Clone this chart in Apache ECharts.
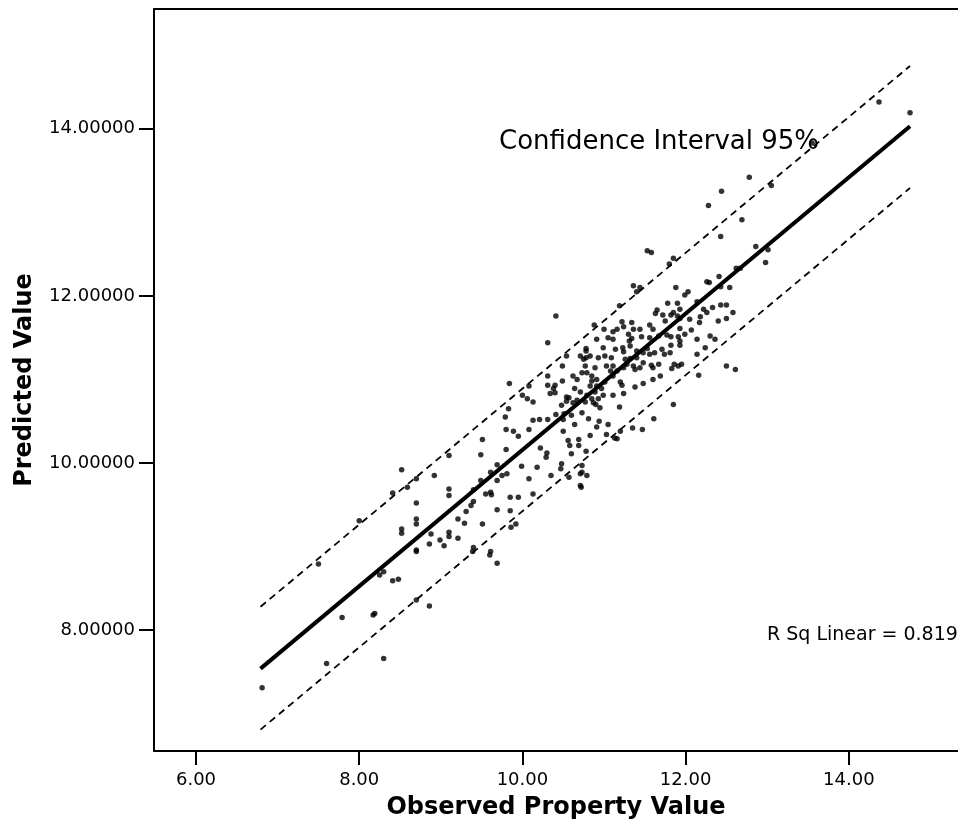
<!DOCTYPE html>
<html>
<head>
<meta charset="utf-8">
<title>Observed vs Predicted Property Value</title>
<script src="https://cdn.jsdelivr.net/npm/echarts@6/dist/echarts.min.js"></script>
<style>
  html, body { margin: 0; padding: 0; background: #fff; overflow: hidden; }
  #chart { width: 958px; height: 825px; }
</style>
</head>
<body>
<div id="chart"></div>
<script>
  // observed / predicted pairs
  var observed = [
    6.81, 7.60, 8.30, 7.79, 8.17, 8.19, 8.70, 8.86, 7.50, 8.25, 8.30, 8.41, 8.48, 8.00, 8.52, 8.92, 8.70, 8.59, 8.41, 9.10,
    9.10, 9.10, 8.70, 8.70, 8.70, 8.52, 8.52, 8.88, 9.10, 9.10, 8.99, 9.04, 8.86, 8.70, 8.70, 9.21, 9.21, 9.40, 9.39, 9.61,
    9.60, 9.69, 9.40, 9.49, 9.61, 9.69, 9.75, 9.81, 9.55, 9.61, 9.62, 9.40, 9.37, 9.31, 9.29, 9.69, 9.85, 9.95, 10.08, 9.85,
    10.13, 9.51, 9.86, 9.92, 10.47, 10.57, 10.71, 10.71, 10.41, 10.31, 10.88, 10.91, 10.78, 10.78, 10.78, 10.54, 10.71, 10.49, 10.77, 10.89,
    10.73, 10.79, 10.62, 10.67, 10.85, 10.91, 10.31, 10.31, 10.40, 10.38, 10.34, 10.40, 10.49, 10.64, 10.54, 10.57, 10.48, 10.67, 10.79, 10.85,
    10.08, 10.00, 10.06, 10.13, 9.84, 9.83, 9.79, 10.41, 10.51, 10.60, 10.13, 10.21, 10.31, 9.80, 9.89, 9.95, 10.08, 10.50, 10.64, 10.73,
    10.81, 10.91, 10.83, 9.51, 9.49, 9.80, 10.22, 10.30, 10.29, 10.56, 10.58, 10.69, 10.69, 10.60, 10.78, 9.69, 9.99, 10.18, 10.48, 10.73,
    10.73, 10.35, 10.79, 10.72, 11.85, 11.61, 11.47, 11.35, 11.20, 11.16, 11.03, 11.05, 10.94, 10.95, 11.19, 10.54, 10.62, 10.87, 10.90, 10.50,
    11.53, 11.58, 11.80, 11.85, 11.36, 11.44, 11.40, 11.88, 12.03, 11.99, 12.26, 12.29, 12.41, 12.62, 12.86, 12.43, 11.19, 11.65, 11.63, 11.78,
    11.90, 11.93, 12.05, 12.14, 12.22, 12.26, 12.33, 12.43, 12.50, 12.58, 12.50, 12.40, 12.18, 12.17, 11.72, 11.82, 11.85, 11.75, 11.93, 11.56,
    11.60, 11.44, 11.22, 11.34, 11.24, 11.36, 11.16, 11.00, 11.11, 11.05, 11.11, 11.34, 11.46, 11.56, 11.67, 11.77, 11.93, 11.99, 12.07, 12.14,
    12.24, 12.14, 12.36, 11.82, 11.81, 11.93, 11.93, 11.91, 11.95, 11.86, 11.83, 11.71, 11.62, 11.48, 11.56, 11.40, 11.24, 11.14, 10.99, 11.01,
    10.93, 11.09, 11.26, 11.32, 11.48, 11.58, 11.67, 11.60, 11.36, 11.44, 11.24, 11.16, 11.03, 12.50, 12.61, 12.16, 11.69, 11.60, 11.48, 11.38,
    11.22, 11.24, 11.20, 11.11, 11.13, 10.85, 10.83, 10.91, 11.01, 10.97, 10.89, 10.71, 10.99, 10.93, 10.77, 11.11, 11.08, 11.74, 11.53, 11.32,
    11.40, 11.23, 10.83, 10.75, 11.11, 11.28, 11.38, 11.90, 11.30, 11.31, 11.82, 11.91, 14.75, 14.37, 12.78, 12.44, 12.28, 13.05, 12.69, 12.43,
    13.01, 12.98, 12.67, 12.54, 12.30, 13.55
  ];
  var predicted = [
    7.31, 7.60, 7.66, 8.15, 8.18, 8.20, 8.36, 8.29, 8.79, 8.66, 8.70, 8.59, 8.61, 9.31, 9.92, 9.85, 9.81, 9.71, 9.64, 10.09,
    9.69, 9.61, 9.52, 9.33, 9.27, 9.21, 9.16, 9.15, 9.17, 9.12, 9.08, 9.01, 9.03, 8.96, 8.94, 9.33, 9.10, 8.99, 8.94, 8.94,
    8.90, 8.80, 9.68, 9.79, 9.89, 9.79, 9.85, 9.87, 9.63, 9.65, 9.62, 9.54, 9.49, 9.42, 9.28, 9.44, 9.59, 9.59, 9.81, 9.43,
    9.63, 9.27, 9.23, 9.27, 9.93, 9.83, 9.73, 9.87, 11.76, 11.44, 11.65, 11.48, 11.37, 11.34, 11.26, 11.28, 11.28, 11.16, 11.16, 11.14,
    11.08, 11.08, 11.04, 11.00, 11.04, 11.00, 11.04, 10.93, 10.93, 10.89, 10.83, 10.84, 10.98, 10.89, 10.79, 10.78, 10.69, 10.75, 10.81, 10.77,
    10.92, 10.81, 10.77, 10.73, 10.95, 10.65, 10.55, 10.58, 10.59, 10.57, 10.51, 10.52, 10.52, 10.40, 10.38, 10.32, 10.40, 10.38, 10.46, 10.60,
    10.53, 10.43, 10.33, 10.28, 10.10, 10.16, 10.18, 10.12, 10.07, 10.27, 10.21, 10.28, 10.21, 10.11, 10.14, 9.98, 9.96, 9.95, 9.99, 9.97,
    9.89, 9.85, 9.85, 9.71, 10.70, 10.53, 10.40, 10.42, 10.38, 10.29, 10.34, 10.46, 10.50, 10.66, 10.67, 10.74, 10.72, 10.72, 10.70, 10.52,
    12.54, 12.52, 12.38, 12.45, 12.12, 12.10, 12.05, 12.10, 12.05, 12.01, 12.17, 12.16, 12.23, 12.33, 12.59, 12.11, 11.88, 11.83, 11.79, 11.91,
    11.91, 11.84, 11.72, 11.93, 11.84, 11.80, 11.86, 11.89, 11.89, 11.80, 11.73, 11.70, 11.75, 11.68, 11.77, 11.77, 11.80, 11.70, 11.73, 11.65,
    11.60, 11.60, 11.69, 11.68, 11.63, 11.60, 11.60, 11.60, 11.57, 11.50, 11.48, 11.49, 11.51, 11.50, 11.52, 11.53, 11.61, 11.54, 11.59, 11.48,
    11.38, 11.30, 11.48, 11.41, 11.32, 11.46, 11.41, 11.16, 11.18, 11.18, 11.13, 11.36, 11.32, 11.32, 11.30, 11.26, 11.33, 11.36, 11.38, 11.28,
    11.26, 11.26, 11.24, 11.25, 11.20, 11.17, 11.18, 11.14, 11.16, 11.14, 11.14, 11.10, 11.16, 11.16, 11.12, 11.05, 11.04, 11.00, 10.95, 10.91,
    10.93, 10.83, 10.97, 10.81, 10.30, 10.98, 10.92, 10.92, 10.97, 10.89, 10.85, 10.85, 10.81, 10.77, 10.73, 11.04, 11.10, 11.30, 11.37, 11.40,
    11.34, 11.38, 11.28, 11.24, 11.16, 11.18, 11.12, 11.76, 11.54, 11.46, 11.51, 11.51, 14.19, 14.32, 13.42, 13.25, 13.08, 13.32, 12.91, 12.71,
    12.55, 12.40, 12.33, 12.10, 11.52, 13.83
  ];

  // fit line and 95% band end points
  var fitX = [6.79, 14.75];
  var fitY = [7.54, 14.03];
  var upperY = [8.28, 14.75];
  var lowerY = [6.81, 13.29];

  var xTicks = [6, 8, 10, 12, 14];
  var yTicks = [8, 10, 12, 14];

  function pairs(xs, ys) {
    return xs.map(function (x, i) { return [x, ys[i]]; });
  }

  var chart = echarts.init(document.getElementById('chart'));

  var option = {
    animation: false,
    backgroundColor: '#fff',
    textStyle: { fontFamily: 'DejaVu Sans', color: '#000' },
    grid: { left: 154, top: 9, width: 804, height: 744 },
    xAxis: [
      {
        type: 'value',
        min: 5.485,
        max: 15.338,
        name: 'Observed Property Value',
        nameLocation: 'middle',
        nameGap: 45,
        nameTextStyle: { fontFamily: 'DejaVu Sans', fontWeight: 'bold', fontSize: 24, color: '#000' },
        axisLine: { lineStyle: { color: '#000', width: 2 } },
        axisTick: { show: true, length: 14, lineStyle: { color: '#000', width: 2 }, customValues: xTicks },
        axisLabel: {
          customValues: xTicks,
          formatter: function (v) { return v.toFixed(2); },
          fontFamily: 'DejaVu Sans', fontSize: 18, color: '#000', margin: 20
        },
        splitLine: { show: false }
      },
      {
        // top border of the frame
        type: 'value',
        position: 'top',
        min: 5.485,
        max: 15.338,
        axisLine: { show: true, lineStyle: { color: '#000', width: 2 } },
        axisTick: { show: false },
        axisLabel: { show: false },
        splitLine: { show: false }
      }
    ],
    yAxis: {
      type: 'value',
      min: 6.554,
      max: 15.432,
      name: 'Predicted Value',
      nameLocation: 'middle',
      nameGap: 117,
      nameTextStyle: { fontFamily: 'DejaVu Sans', fontWeight: 'bold', fontSize: 24, color: '#000' },
      axisLine: { show: true, lineStyle: { color: '#000', width: 2 } },
      axisTick: { show: true, length: 15, lineStyle: { color: '#000', width: 2 }, customValues: yTicks },
      axisLabel: {
        customValues: yTicks,
        formatter: function (v) { return v.toFixed(5); },
        fontFamily: 'DejaVu Sans', fontSize: 18, color: '#000', margin: 19
      },
      splitLine: { show: false }
    },
    graphic: [
      {
        type: 'text', x: 499, y: 142,
        style: { text: 'Confidence Interval 95%', font: '26px "DejaVu Sans"', fill: '#000', verticalAlign: 'middle' }
      },
      {
        type: 'text', x: 767, y: 635,
        style: { text: 'R Sq Linear = 0.819', font: '19px "DejaVu Sans"', fill: '#000', verticalAlign: 'middle' }
      }
    ],
    series: [
      {
        name: 'fit',
        type: 'line',
        data: pairs(fitX, fitY),
        showSymbol: false,
        lineStyle: { color: '#000', width: 4 },
        z: 2
      },
      {
        name: 'upper',
        type: 'line',
        data: pairs(fitX, upperY),
        showSymbol: false,
        lineStyle: { color: '#000', width: 1.8, type: [7, 5] },
        z: 2
      },
      {
        name: 'lower',
        type: 'line',
        data: pairs(fitX, lowerY),
        showSymbol: false,
        lineStyle: { color: '#000', width: 1.8, type: [7, 5] },
        z: 2
      },
      {
        name: 'cases',
        type: 'scatter',
        data: pairs(observed, predicted),
        symbol: 'circle',
        symbolSize: 5.5,
        itemStyle: { color: '#000' },
        z: 3
      }
    ]
  };

  chart.setOption(option);
</script>
</body>
</html>
